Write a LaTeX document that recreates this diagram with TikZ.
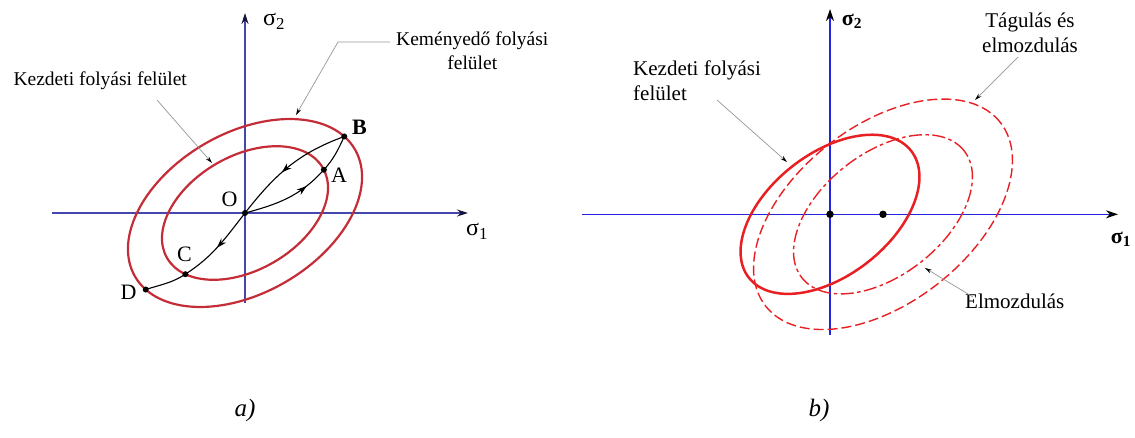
\documentclass[tikz,border=0pt]{standalone}
\usepackage{fontspec}
\setmainfont{Liberation Serif}
\usetikzlibrary{arrows.meta,decorations.markings}
\definecolor{aRed}{RGB}{196,44,56}
\definecolor{bRed}{RGB}{232,32,36}
\definecolor{aBlue}{RGB}{70,70,175}
\definecolor{bBlue}{RGB}{35,35,225}
\definecolor{leadGray}{RGB}{150,150,150}
\definecolor{tipNavy}{RGB}{20,20,60}
\begin{document}
\begin{tikzpicture}[x=1pt,y=1pt,
  axisA/.style={aBlue,line width=1.1pt,-{Stealth[length=11pt,width=7pt,color=tipNavy]}},
  axisB/.style={bBlue,line width=1.6pt,-{Stealth[length=12pt,width=8pt,color=black]}},
  ellA/.style={aRed,line width=2.2pt},
  ellBsolid/.style={bRed,line width=2.5pt},
  ellBdash/.style={bRed,line width=1.4pt,dash pattern=on 10pt off 4pt},
  ellBdashdot/.style={bRed,line width=1.4pt,dash pattern=on 13pt off 3.5pt on 3.5pt off 3.5pt},
  leader/.style={leadGray,line width=0.7pt,-{Stealth[length=7pt,width=4pt,color=black]}},
  curve/.style={black,line width=1.1pt},
  midarrow/.style={postaction={decorate},decoration={markings,mark=at position #1 with {\arrow{Stealth[length=10pt,width=6.5pt]}}}},
  dotA/.style={circle,fill=black,inner sep=0pt,minimum size=6pt},
  dotB/.style={circle,fill=black,inner sep=0pt,minimum size=7.5pt},
  lblA/.style={font=\fontsize{19.5}{23}\selectfont,inner sep=0pt},
  lblB/.style={font=\fontsize{21}{25}\selectfont,inner sep=0pt},
  ptlbl/.style={font=\fontsize{22}{26}\selectfont,inner sep=0pt},
  sglbl/.style={font=\fontsize{24}{28}\selectfont,inner sep=0pt},
  caplbl/.style={font=\fontsize{25}{29}\selectfont\itshape,inner sep=0pt}]
\path[use as bounding box] (0,0) rectangle (1135,-437);

% ---------------- panel a ----------------
\coordinate (O) at (245,-213);
\coordinate (axAl) at (52,-213);
\coordinate (axAr) at (468,-213);
\coordinate (axAb) at (245,-303);
\coordinate (axAt) at (245,-13);
\draw[axisA] (axAl) -- (axAr);
\draw[axisA] (axAb) -- (axAt);
\node[sglbl] (s2a) at (274,-21) {σ\textsubscript{2}};
\node[sglbl] (s1a) at (477,-231) {σ\textsubscript{1}};

\begin{scope}[shift={(245,-213)},rotate=30]
  \draw[ellA] (0,0) ellipse[x radius=127,y radius=80];
  \draw[ellA] (0,0) ellipse[x radius=90,y radius=57];
  \coordinate (B) at ({127*cos(12)},{80*sin(12)});
  \coordinate (D) at ({127*cos(192)},{80*sin(192)});
  \coordinate (A) at ({90*cos(-2)},{57*sin(-2)});
  \coordinate (C) at ({90*cos(204)},{57*sin(204)});
\end{scope}

\draw[curve,midarrow=0.74] (O) to[out=15,in=228] (A);
\draw[curve] (A) to[out=48,in=245] (B);
\draw[curve,midarrow=0.57] (B) to[out=200,in=52] (O);
\draw[curve,midarrow=0.52] (O) to[out=232,in=33] (C);
\draw[curve] (C) to[out=213,in=18] (D);

\node[dotA] (dO) at (O) {};
\node[dotA] (dA) at (A) {};
\node[dotA] (dB) at (B) {};
\node[dotA] (dC) at (C) {};
\node[dotA] (dD) at (D) {};
\node[ptlbl] (lO) at (229.5,-199.5) {O};
\node[ptlbl,font=\fontsize{22}{26}\selectfont\bfseries] (lB) at (359.5,-127.5) {B};
\node[ptlbl] (lA) at (339,-175) {A};
\node[ptlbl] (lC) at (184.5,-254.5) {C};
\node[ptlbl] (lD) at (128.5,-292.5) {D};

\node[lblA,anchor=base east] (kezA) at (187,-85) {Kezdeti folyási felület};
\coordinate (kezAs) at (157,-100);
\coordinate (kezAe) at (212,-163);
\draw[leader] (kezAs) -- (kezAe);

\node[lblA,anchor=base west] (kem1) at (396,-45) {Keményedő folyási};
\node[lblA,anchor=base] (kem2) at ([yshift=-24pt]kem1.base) {felület};
\coordinate (kemS) at (390,-42);
\coordinate (kemK) at (338,-42);
\coordinate (kemE) at (296,-115);
\draw[leader] (kemS) -- (kemK) -- (kemE);

\node[caplbl] (capa) at (245,-410) {a)};

% ---------------- panel b ----------------
\coordinate (Ob) at (830,-214.3);
\coordinate (Sb) at (883,-214.3);
\coordinate (axBl) at (582,-214.3);
\coordinate (axBr) at (1118,-214.3);
\coordinate (axBb) at (830,-335);
\coordinate (axBt) at (830,-9);
\draw[axisB] (axBl) -- (axBr);
\draw[axisB] (axBb) -- (axBt);
\node[sglbl,font=\fontsize{22}{26}\selectfont\bfseries] (s2b) at (852,-21) {σ\textsubscript{2}};
\node[sglbl,font=\fontsize{22}{26}\selectfont\bfseries] (s1b) at (1121,-239) {σ\textsubscript{1}};

\begin{scope}[shift={(883,-214.3)},rotate=38]
  \draw[ellBdash] (0,0) ellipse[x radius=149,y radius=88.5];
  \draw[ellBdashdot] (0,0) ellipse[x radius=103,y radius=61];
\end{scope}
\begin{scope}[shift={(830,-214.3)},rotate=38]
  \draw[ellBsolid] (0,0) ellipse[x radius=103,y radius=61];
\end{scope}

\node[dotB] (dOb) at (Ob) {};
\node[dotB] (dSb) at (Sb) {};

\node[lblB,anchor=base west] (kb1) at (633,-75) {Kezdeti folyási};
\node[lblB,anchor=base west] (kb2) at ([yshift=-25pt]kb1.base west) {felület};
\coordinate (kbS) at (717,-100);
\coordinate (kbE) at (787,-162);
\draw[leader] (kbS) -- (kbE);

\node[lblB,anchor=base] (tb1) at (1030,-27) {Tágulás és};
\node[lblB,anchor=base] (tb2) at ([yshift=-25pt]tb1.base) {elmozdulás};
\coordinate (tbS) at (1018,-57);
\coordinate (tbE) at (975,-100);
\draw[leader] (tbS) -- (tbE);

\node[lblB,anchor=base west] (eb) at (965,-308) {Elmozdulás};
\coordinate (ebS) at (973,-297);
\coordinate (ebE) at (925,-268);
\draw[leader] (ebS) -- (ebE);

\node[caplbl] (capb) at (819,-410) {b)};
\end{tikzpicture}
\end{document}
